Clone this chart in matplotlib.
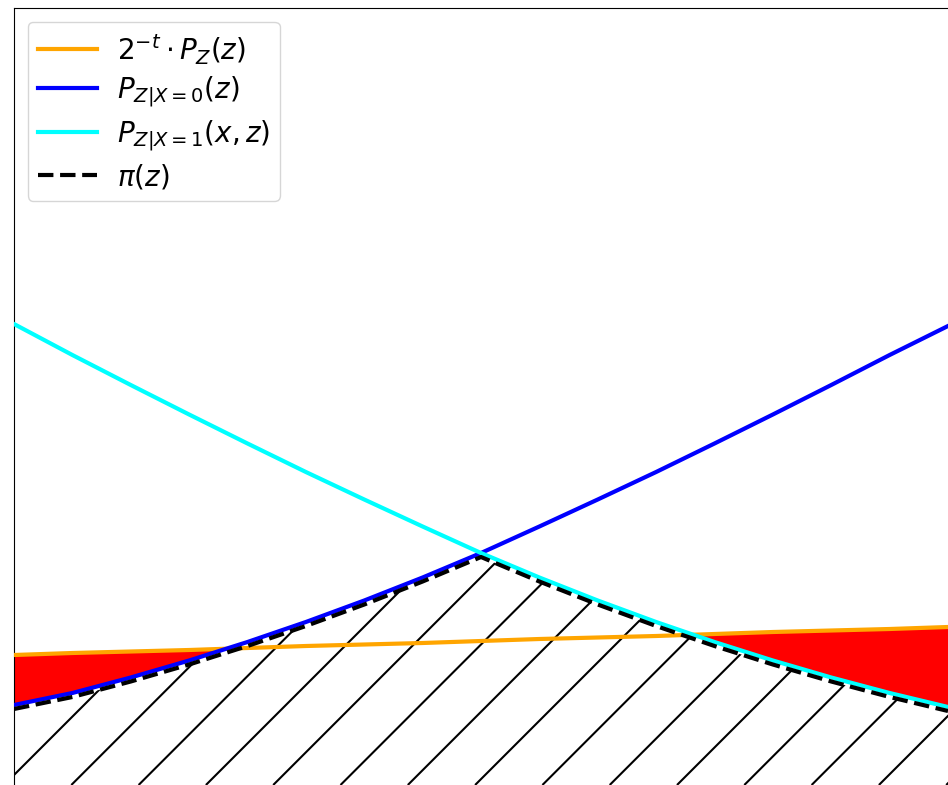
import numpy as np
import matplotlib
matplotlib.use("Agg")
import matplotlib.pyplot as plt
from matplotlib.collections import LineCollection

# sample positions along z (no ticks in the original, so arbitrary units)
z = np.linspace(-1, 1, 17)

# curves
p_z_scaled = [1.30, 1.32, 1.335, 1.35, 1.37, 1.39, 1.405, 1.42, 1.44,
              1.46, 1.475, 1.49, 1.51, 1.53, 1.545, 1.56, 1.58]
p_x0 = [0.80, 0.92, 1.075, 1.245, 1.43, 1.63, 1.845, 2.075, 2.32,
        2.585, 2.855, 3.13, 3.415, 3.705, 4.00, 4.30, 4.59]
p_x1 = [4.61, 4.30, 4.00, 3.705, 3.415, 3.13, 2.855, 2.585, 2.32,
        2.075, 1.845, 1.63, 1.43, 1.245, 1.075, 0.92, 0.78]
pi_shift = 0.04   # dashed pi curve sits just under the lower envelope

p_z_scaled = np.array(p_z_scaled)
p_x0 = np.array(p_x0)
p_x1 = np.array(p_x1)
lower = np.minimum(p_x0, p_x1)
pi = lower - pi_shift

W, H, DPI = 948, 785, 100
fig = plt.figure(figsize=(W / DPI, H / DPI), dpi=DPI)
ax = fig.add_axes([14 / W, 0, 934 / W, 777 / H])
ax.set_xlim(-1, 1)
ax.set_ylim(0, 7.77)
ax.set_xticks([])
ax.set_yticks([])
ax.spines['right'].set_visible(False)
ax.spines['bottom'].set_visible(False)

# red area where the scaled marginal is above the envelope
ax.fill_between(z, p_z_scaled, lower, where=p_z_scaled > lower,
                interpolate=True, color='red', linewidth=0, zorder=1)

# region under pi(z), hatched with sparse 45 degree lines
region = ax.fill_between(z, 0, pi, facecolor='none', edgecolor='none', zorder=1)
clip = region.get_paths()[0]
spacing = 67.3 / 934          # horizontal spacing in axes fraction
aspect = 934 / 777
u0 = -0.0107                  # line through the lower left corner
segs = []
for k in range(-30, 30):
    u = u0 + k * spacing
    segs.append([(u, 0), (u + 1.2, 1.2 * aspect)])
hatch = LineCollection(segs, colors='black', linewidths=1.5,
                       transform=ax.transAxes, zorder=2)
hatch.set_clip_path(clip, ax.transData)
ax.add_collection(hatch)

ax.plot(z, p_z_scaled, color='orange', lw=3, zorder=3,
        label=r'$2^{-t} \cdot P_Z(z)$')
ax.plot(z, p_x0, color='blue', lw=3, zorder=3,
        label=r'$P_{Z|X=0}(z)$')
ax.plot(z, p_x1, color='cyan', lw=3, zorder=3,
        label=r'$P_{Z|X=1}(x,z)$')
ax.plot(z, pi, color='black', lw=3, ls='--', zorder=4,
        label=r'$\pi(z)$')

ax.legend(loc='upper left', fontsize=20, handlelength=2.15,
          handletextpad=0.7, labelspacing=0.32, borderpad=0.35)

fig.savefig('out.png', dpi=DPI)
